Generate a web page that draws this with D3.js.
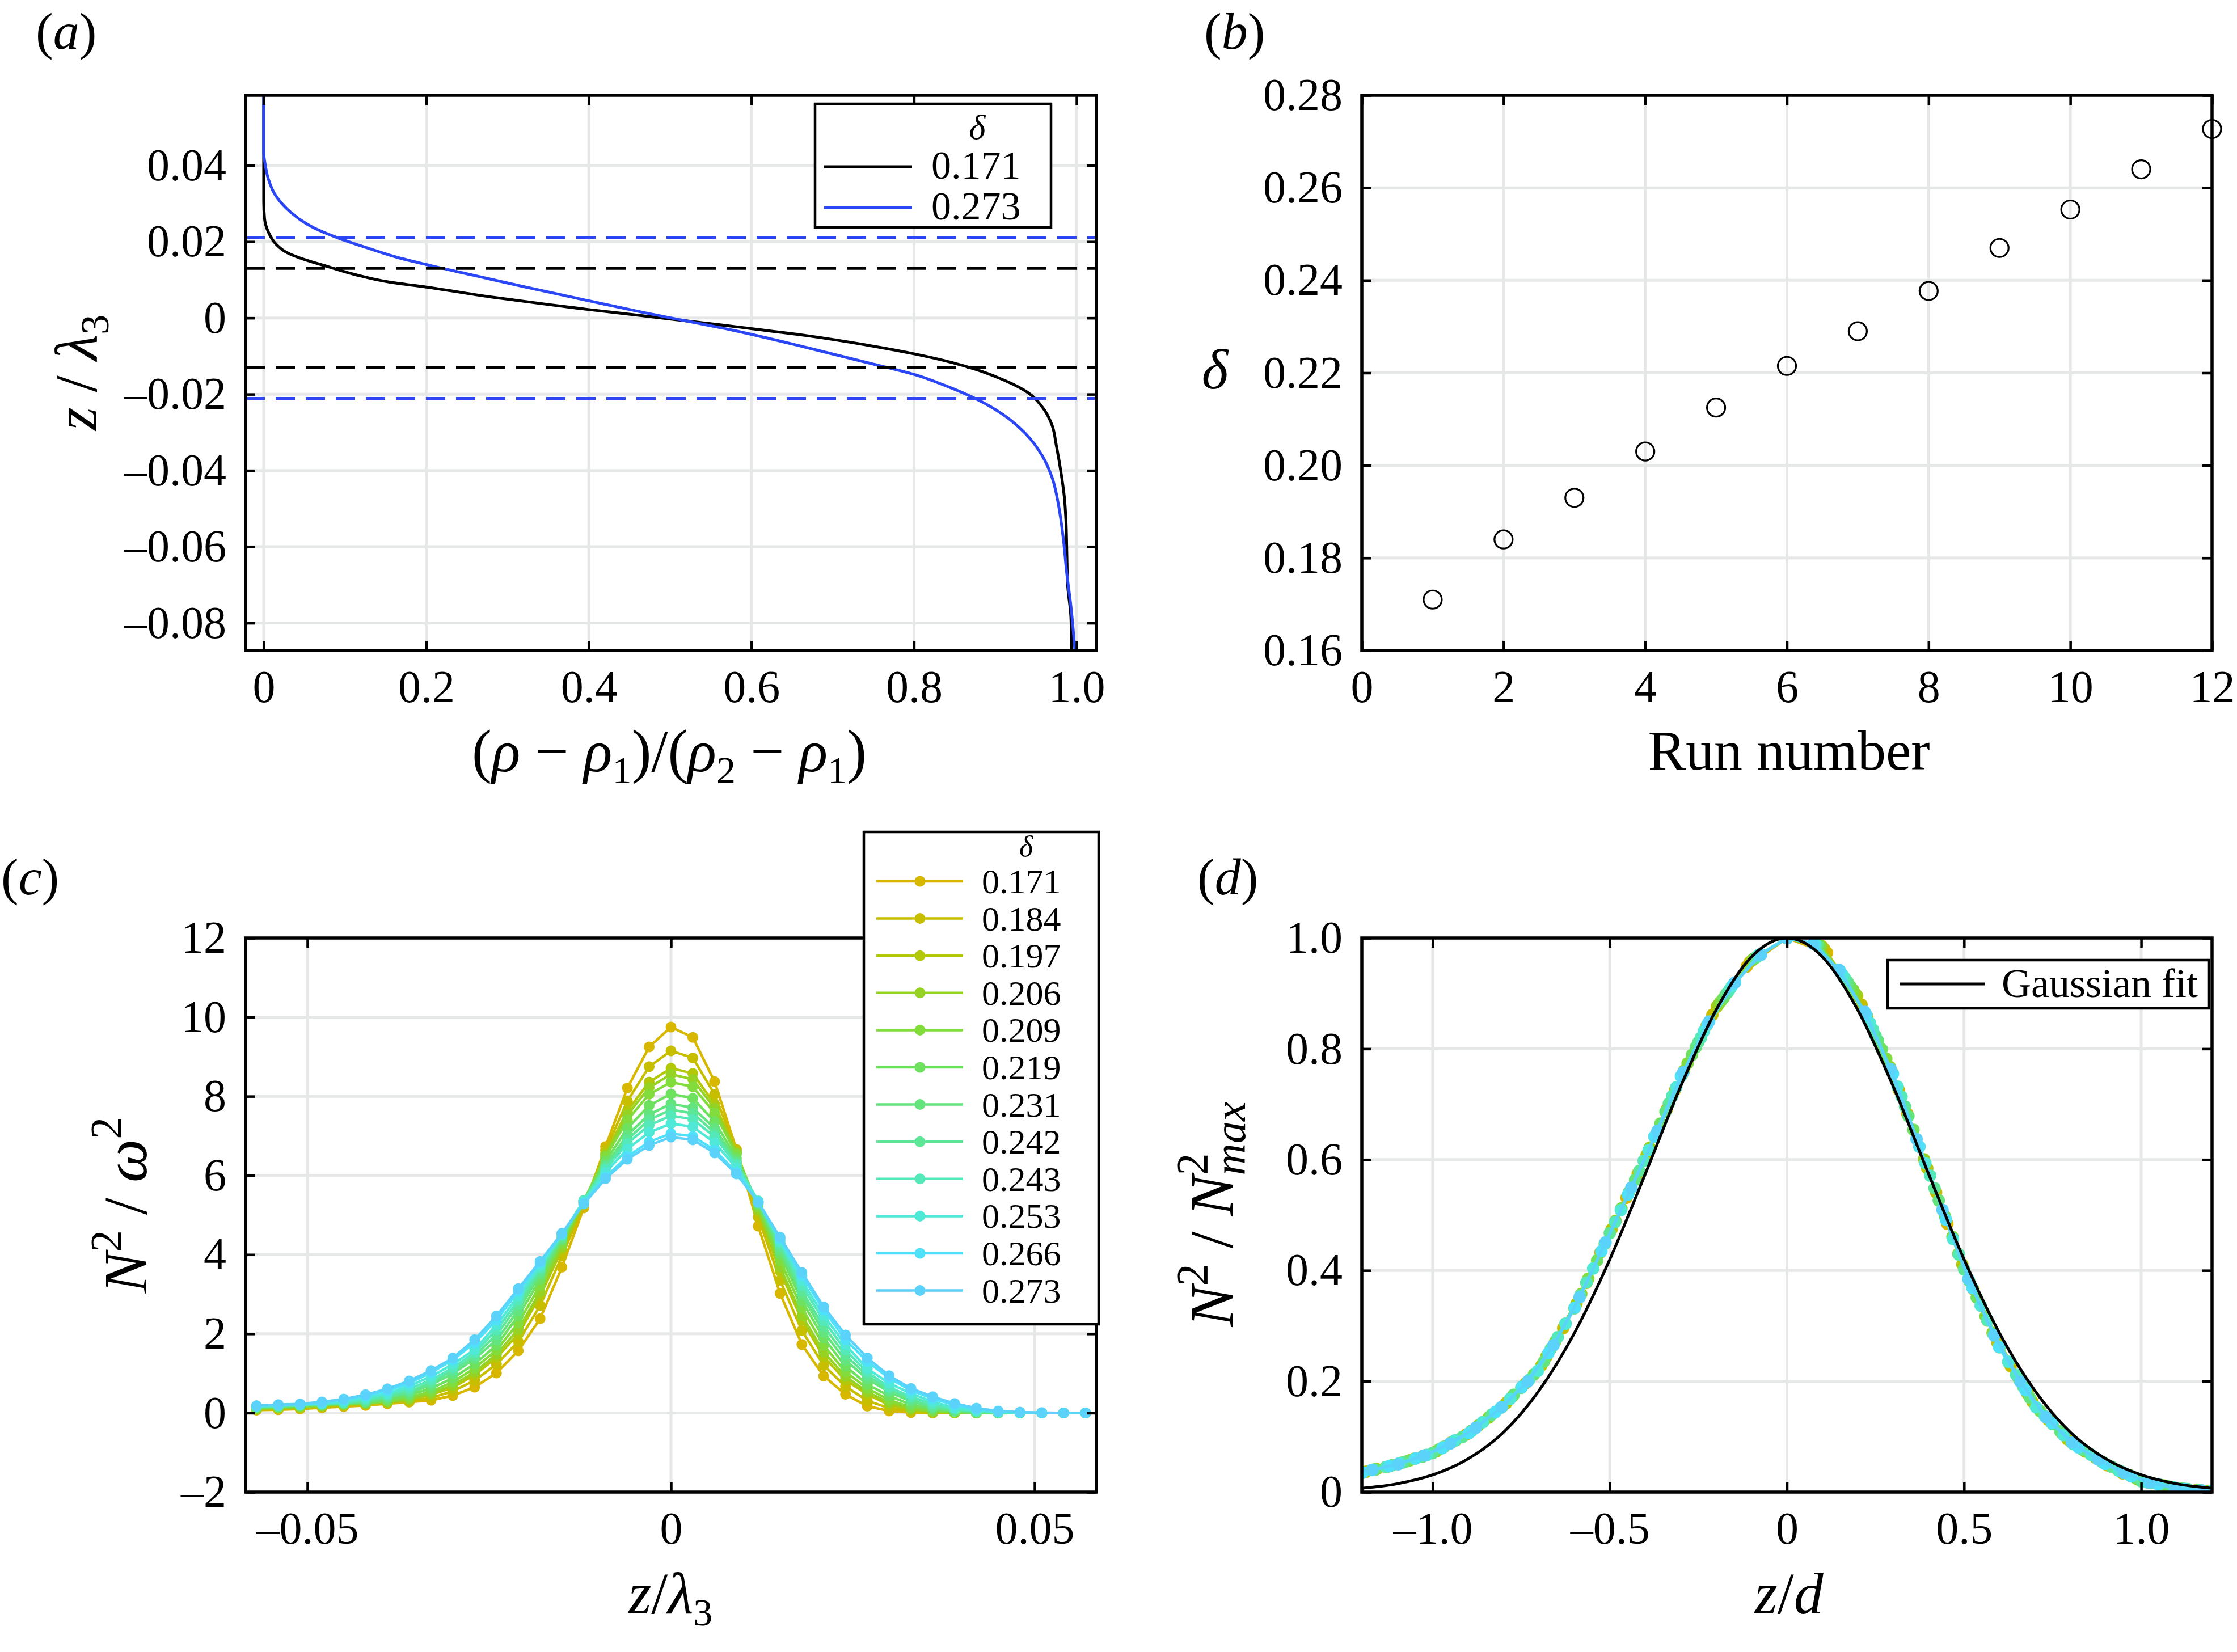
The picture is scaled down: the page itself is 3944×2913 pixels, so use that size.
<!DOCTYPE html>
<html>
<head>
<meta charset="utf-8">
<script src="https://cdn.jsdelivr.net/npm/d3@7"></script>
<style>
body { margin: 0; background: #fff; }
text { font-family: "Liberation Serif", "Times New Roman", serif; fill: #000; }
</style>
</head>
<body>
<svg id="fig" width="3944" height="2913"></svg>
<script>
// ---- panel (a): density profiles ----
const rho171 = [0, 0, 0.001, 0.0056, 0.015, 0.029, 0.049, 0.080, 0.112, 0.155, 0.2, 0.280, 0.351, 0.4, 0.466, 0.581, 0.667, 0.758, 0.8, 0.847, 0.876, 0.904, 0.939, 0.958, 0.970, 0.975, 0.981, 0.985, 0.987, 0.988, 0.989, 0.993, 0.994];
const z171 = [0.0584, 0.0306, 0.0261, 0.0226, 0.0194, 0.0171, 0.0154, 0.0134, 0.0114, 0.0094, 0.0081, 0.0055, 0.0035, 0.0022, 0.0006, -0.0023, -0.0046, -0.0077, -0.0094, -0.0117, -0.0135, -0.0157, -0.0194, -0.0234, -0.0282, -0.0333, -0.0407, -0.047, -0.0533, -0.0613, -0.0698, -0.0783, -0.0872];
const rho273 = [0, 0, 0.002, 0.0056, 0.015, 0.034, 0.062, 0.090, 0.127, 0.164, 0.2, 0.258, 0.320, 0.4, 0.466, 0.581, 0.667, 0.752, 0.8, 0.838, 0.878, 0.910, 0.938, 0.958, 0.970, 0.978, 0.984, 0.988, 0.993, 0.998];
const z273 = [0.0584, 0.0435, 0.040, 0.0365, 0.032, 0.0276, 0.0236, 0.0211, 0.0184, 0.0159, 0.0140, 0.0112, 0.0082, 0.0045, 0.0015, -0.0034, -0.0077, -0.0122, -0.0148, -0.0177, -0.0214, -0.0254, -0.0305, -0.0362, -0.0419, -0.0493, -0.0584, -0.067, -0.0755, -0.0872];
const dash171 = [0.013, -0.013];
const dash273 = [0.0211, -0.0211];

// ---- panel (b): delta per run ----
const runs = [1, 2, 3, 4, 5, 6, 7, 8, 9, 10, 11, 12];
const deltaRun = [0.171, 0.184, 0.193, 0.203, 0.2125, 0.2215, 0.229, 0.2377, 0.247, 0.2553, 0.264, 0.2727];

// ---- panel (c): N^2/omega^2 profiles ----
const deltaLabels = ['0.171', '0.184', '0.197', '0.206', '0.209', '0.219', '0.231', '0.242', '0.243', '0.253', '0.266', '0.273'];
const zC = [-0.057, -0.054, -0.051, -0.048, -0.045, -0.042, -0.039, -0.036, -0.033, -0.030, -0.027, -0.024, -0.021, -0.018, -0.015, -0.012, -0.009, -0.006, -0.003, 0, 0.003, 0.006, 0.009, 0.012, 0.015, 0.018, 0.021, 0.024, 0.027, 0.030, 0.033, 0.036, 0.039, 0.042, 0.045, 0.048, 0.051, 0.054, 0.057];
const n171 = [0.07,0.08,0.10,0.13,0.16,0.19,0.23,0.27,0.32,0.44,0.65,1.01,1.57,2.38,3.68,5.18,6.73,8.21,9.25,9.75,9.49,8.37,6.66,4.72,3.02,1.73,0.93,0.47,0.17,0.05,0.01,0,0,0,0,0,0,0,0];
const n184 = [0.08,0.10,0.12,0.15,0.18,0.22,0.25,0.29,0.38,0.55,0.82,1.23,1.80,2.71,3.96,5.26,6.64,7.88,8.75,9.15,8.97,8.05,6.64,4.95,3.35,2.08,1.20,0.67,0.31,0.12,0.04,0.01,0,0,0,0,0,0,0];
const n197 = [0.10,0.12,0.14,0.17,0.20,0.23,0.27,0.32,0.46,0.64,0.96,1.40,1.99,2.96,4.13,5.30,6.55,7.63,8.36,8.71,8.58,7.80,6.60,5.09,3.58,2.35,1.42,0.83,0.47,0.20,0.07,0.02,0,0,0,0,0,0,0];
const n206 = [0.10,0.13,0.15,0.18,0.21,0.24,0.28,0.35,0.49,0.70,1.03,1.48,2.11,3.06,4.19,5.32,6.51,7.53,8.22,8.56,8.43,7.70,6.57,5.14,3.68,2.46,1.54,0.92,0.53,0.26,0.10,0.03,0.01,0,0,0,0,0,0];
const n209 = [0.12,0.14,0.16,0.19,0.22,0.25,0.29,0.39,0.54,0.78,1.13,1.59,2.27,3.22,4.28,5.36,6.47,7.40,8.05,8.36,8.24,7.58,6.54,5.21,3.85,2.65,1.71,1.04,0.62,0.33,0.14,0.05,0.02,0,0,0,0,0,0];
const n219 = [0.13,0.15,0.18,0.20,0.23,0.26,0.33,0.45,0.62,0.88,1.24,1.71,2.45,3.37,4.36,5.36,6.36,7.19,7.77,8.06,7.95,7.36,6.44,5.27,4.01,2.83,1.89,1.18,0.72,0.43,0.21,0.09,0.03,0,0,0,0,0,0];
const n231 = [0.14,0.16,0.19,0.21,0.24,0.27,0.38,0.50,0.71,0.99,1.37,1.84,2.59,3.50,4.40,5.36,6.27,7.02,7.54,7.81,7.71,7.19,6.36,5.30,4.11,2.98,2.04,1.33,0.86,0.53,0.29,0.13,0.05,0.02,0,0,0,0,0];
const n242 = [0.15,0.17,0.20,0.22,0.25,0.31,0.41,0.54,0.76,1.07,1.44,1.98,2.72,3.58,4.44,5.37,6.22,6.91,7.41,7.66,7.57,7.08,6.31,5.33,4.20,3.08,2.18,1.46,0.94,0.59,0.35,0.15,0.07,0.03,0.01,0,0,0,0];
const n243 = [0.16,0.18,0.20,0.23,0.26,0.34,0.45,0.61,0.83,1.14,1.52,2.10,2.84,3.66,4.49,5.37,6.16,6.81,7.27,7.51,7.42,6.98,6.27,5.36,4.29,3.22,2.33,1.59,1.03,0.65,0.41,0.22,0.10,0.04,0.01,0,0,0,0];
const n253 = [0.17,0.19,0.21,0.24,0.29,0.38,0.49,0.68,0.92,1.23,1.60,2.22,2.95,3.72,4.51,5.34,6.08,6.67,7.09,7.31,7.23,6.83,6.19,5.35,4.34,3.34,2.46,1.72,1.12,0.75,0.49,0.28,0.13,0.06,0.02,0.01,0,0,0];
const n266 = [0.18,0.20,0.22,0.25,0.33,0.43,0.56,0.75,1.02,1.34,1.77,2.35,3.07,3.79,4.53,5.30,5.96,6.48,6.85,7.06,6.99,6.64,6.08,5.33,4.40,3.47,2.60,1.85,1.30,0.88,0.57,0.36,0.20,0.10,0.04,0.01,0,0,0];
const n273 = [0.18,0.21,0.23,0.28,0.35,0.46,0.61,0.81,1.07,1.39,1.85,2.45,3.14,3.83,4.54,5.28,5.92,6.41,6.76,6.97,6.90,6.57,6.04,5.32,4.44,3.55,2.68,1.97,1.39,0.94,0.62,0.41,0.24,0.12,0.05,0.02,0.01,0,0];
const seriesC = [n171, n184, n197, n206, n209, n219, n231, n242, n243, n253, n266, n273];
const colorsC = ['#d7b700', '#c8be00', '#b4c80a', '#96d223', '#82dc3c', '#6ee15f', '#64e47d', '#5ce696', '#55e8b9', '#50e8d7', '#50e1fa', '#5ad2fa'];
// interface thickness d per run (used for panel d)
const dWidth = [0.0265, 0.0285, 0.0303, 0.0310, 0.0321, 0.0336, 0.0350, 0.0360, 0.0371, 0.0384, 0.0401, 0.0410];

// ---- panel (d): Gaussian fit ----
const gaussS = [-1.2, -1.1, -1.0, -0.9, -0.8, -0.7, -0.6, -0.5, -0.4, -0.3, -0.2, -0.1, 0, 0.1, 0.2, 0.3, 0.4, 0.5, 0.6, 0.7, 0.8, 0.9, 1.0, 1.1, 1.2];
const gaussV = [0.007, 0.015, 0.031, 0.060, 0.108, 0.183, 0.287, 0.420, 0.574, 0.732, 0.870, 0.966, 1.0, 0.966, 0.870, 0.732, 0.574, 0.420, 0.287, 0.183, 0.108, 0.060, 0.031, 0.015, 0.007];

// ---- ticks ----
const aXTicks = [0, 0.2, 0.4, 0.6, 0.8, 1.0];
const aXLabels = ['0', '0.2', '0.4', '0.6', '0.8', '1.0'];
const aYTicks = [-0.08, -0.06, -0.04, -0.02, 0, 0.02, 0.04];
const aYLabels = ['–0.08', '–0.06', '–0.04', '–0.02', '0', '0.02', '0.04'];
const bXTicks = [0, 2, 4, 6, 8, 10, 12];
const bXLabels = ['0', '2', '4', '6', '8', '10', '12'];
const bYTicks = [0.16, 0.18, 0.20, 0.22, 0.24, 0.26, 0.28];
const bYLabels = ['0.16', '0.18', '0.20', '0.22', '0.24', '0.26', '0.28'];
const cXTicks = [-0.05, 0, 0.05];
const cXLabels = ['–0.05', '0', '0.05'];
const cYTicks = [-2, 0, 2, 4, 6, 8, 10, 12];
const cYLabels = ['–2', '0', '2', '4', '6', '8', '10', '12'];
const dXTicks = [-1.0, -0.5, 0, 0.5, 1.0];
const dXLabels = ['–1.0', '–0.5', '0', '0.5', '1.0'];
const dYTicks = [0, 0.2, 0.4, 0.6, 0.8, 1.0];
const dYLabels = ['0', '0.2', '0.4', '0.6', '0.8', '1.0'];

const svg = d3.select('#fig');
const FONT = '"Liberation Serif", "Times New Roman", serif';
const GRID = '#e6e8e8';
const TICK = 17;
const BLUE = '#2a46f5';

svg.append('rect').attr('width', 3944).attr('height', 2913).attr('fill', '#fff');

function makePanel(box, xDom, yDom, xt, xl, yt, yl, id) {
    let x = d3.scaleLinear().domain(xDom).range([box.l, box.r]);
    let y = d3.scaleLinear().domain(yDom).range([box.b, box.t]);
    let g = svg.append('g');

    // сетка
    g.append('g').selectAll('line').data(xt).join('line')
        .attr('x1', d => x(d)).attr('x2', d => x(d))
        .attr('y1', box.t).attr('y2', box.b)
        .attr('stroke', GRID).attr('stroke-width', 5);
    g.append('g').selectAll('line').data(yt).join('line')
        .attr('y1', d => y(d)).attr('y2', d => y(d))
        .attr('x1', box.l).attr('x2', box.r)
        .attr('stroke', GRID).attr('stroke-width', 5);

    svg.append('clipPath').attr('id', 'clip' + id).append('rect')
        .attr('x', box.l).attr('y', box.t)
        .attr('width', box.r - box.l).attr('height', box.b - box.t);
    let plot = g.append('g').attr('clip-path', `url(#clip${id})`);

    let axes = function () {
        let styleAxis = a => a.attr('font-family', FONT).attr('font-size', 80)
            .call(s => s.select('.domain').remove())
            .call(s => s.selectAll('line').attr('stroke', '#000').attr('stroke-width', 4.5));
        g.append('g').attr('transform', `translate(0,${box.b})`)
            .call(d3.axisBottom(x).tickValues(xt).tickFormat((d, i) => xl[i]).tickSize(-TICK).tickPadding(34))
            .call(styleAxis);
        g.append('g').attr('transform', `translate(0,${box.t})`)
            .call(d3.axisTop(x).tickValues(xt).tickFormat(() => '').tickSize(-TICK))
            .call(styleAxis);
        g.append('g').attr('transform', `translate(${box.l},0)`)
            .call(d3.axisLeft(y).tickValues(yt).tickFormat((d, i) => yl[i]).tickSize(-TICK).tickPadding(34))
            .call(styleAxis);
        g.append('g').attr('transform', `translate(${box.r},0)`)
            .call(d3.axisRight(y).tickValues(yt).tickFormat(() => '').tickSize(-TICK))
            .call(styleAxis);
        g.append('rect')
            .attr('x', box.l).attr('y', box.t)
            .attr('width', box.r - box.l).attr('height', box.b - box.t)
            .attr('fill', 'none').attr('stroke', '#000').attr('stroke-width', 5.5);
    };
    return {x, y, g, plot, axes, box};
}

// текст с индексами: parts = [{t, i (italic), s (сдвиг вниз, px), fs, dx}]
function rich(sel, parts, size) {
    let cur = 0;
    parts.forEach(p => {
        let s = p.s || 0;
        let ts = sel.append('tspan').text(p.t)
            .attr('font-size', p.fs || size)
            .attr('font-style', p.i ? 'italic' : 'normal');
        if (s !== cur) { ts.attr('dy', s - cur); cur = s; }
        if (p.dx) ts.attr('dx', p.dx);
    });
    return sel;
}

function panelLabel(x, y, letter) {
    rich(svg.append('text').attr('x', x).attr('y', y),
        [{t: '('}, {t: letter, i: true}, {t: ')'}], 92);
}

// ================= (a) =================
let A = makePanel({l: 433, r: 1933, t: 168, b: 1147}, [-0.0223, 1.0244], [-0.0872, 0.0584],
    aXTicks, aXLabels, aYTicks, aYLabels, 'A');

let lineA = d3.line().x(d => A.x(d[0])).y(d => A.y(d[1])).curve(d3.curveMonotoneY);
A.plot.append('path').datum(rho171.map((r, i) => [r, z171[i]]))
    .attr('d', lineA).attr('fill', 'none').attr('stroke', '#000').attr('stroke-width', 5);
A.plot.append('path').datum(rho273.map((r, i) => [r, z273[i]]))
    .attr('d', lineA).attr('fill', 'none').attr('stroke', BLUE).attr('stroke-width', 5);

A.plot.selectAll('.d171').data(dash171).join('line')
    .attr('x1', A.box.l).attr('x2', A.box.r)
    .attr('y1', d => A.y(d)).attr('y2', d => A.y(d))
    .attr('stroke', '#000').attr('stroke-width', 5).attr('stroke-dasharray', '34,19');
A.plot.selectAll('.d273').data(dash273).join('line')
    .attr('x1', A.box.l).attr('x2', A.box.r)
    .attr('y1', d => A.y(d)).attr('y2', d => A.y(d))
    .attr('stroke', BLUE).attr('stroke-width', 5).attr('stroke-dasharray', '34,19');
A.axes();

// легенда (a)
let legA = svg.append('g');
legA.append('rect').attr('x', 1437).attr('y', 183).attr('width', 416).attr('height', 218)
    .attr('fill', '#fff').attr('stroke', '#000').attr('stroke-width', 4.5);
legA.append('text').attr('x', 1723).attr('y', 245).attr('text-anchor', 'middle')
    .attr('font-size', 62).attr('font-style', 'italic').text('δ');
[['0.171', '#000', 294], ['0.273', BLUE, 366]].forEach(([lab, col, yy]) => {
    legA.append('line').attr('x1', 1453).attr('x2', 1608).attr('y1', yy).attr('y2', yy)
        .attr('stroke', col).attr('stroke-width', 5);
    legA.append('text').attr('x', 1642).attr('y', yy + 21).attr('font-size', 70).text(lab);
});

rich(svg.append('text').attr('x', 1180).attr('y', 1360).attr('text-anchor', 'middle'), [
    {t: '('}, {t: 'ρ', i: true}, {t: ' − '}, {t: 'ρ', i: true}, {t: '1', fs: 68, s: 21},
    {t: ')/('}, {t: 'ρ', i: true}, {t: '2', fs: 68, s: 21}, {t: ' − '}, {t: 'ρ', i: true},
    {t: '1', fs: 68, s: 21}, {t: ')'}], 105);
rich(svg.append('text').attr('transform', 'translate(170,657) rotate(-90)').attr('text-anchor', 'middle'), [
    {t: 'z', i: true}, {t: ' / '}, {t: 'λ', i: true}, {t: '3', fs: 70, s: 21}], 106);
panelLabel(63, 86, 'a');

// ================= (b) =================
let B = makePanel({l: 2401, r: 3900, t: 168, b: 1147}, [0, 12], [0.16, 0.28],
    bXTicks, bXLabels, bYTicks, bYLabels, 'B');
B.axes();
B.g.selectAll('circle').data(runs).join('circle')
    .attr('cx', d => B.x(d)).attr('cy', (d, i) => B.y(deltaRun[i])).attr('r', 16)
    .attr('fill', 'none').attr('stroke', '#000').attr('stroke-width', 3.2);
svg.append('text').attr('x', 3154).attr('y', 1357).attr('text-anchor', 'middle')
    .attr('font-size', 100).text('Run number');
svg.append('text').attr('x', 2142).attr('y', 685).attr('text-anchor', 'middle')
    .attr('font-size', 100).attr('font-style', 'italic').text('δ');
panelLabel(2123, 86, 'b');

// ================= (c) =================
let C = makePanel({l: 433, r: 1933, t: 1654, b: 2631}, [-0.0585, 0.0585], [-2, 12],
    cXTicks, cXLabels, cYTicks, cYLabels, 'C');
let lineC = d3.line().x((d, i) => C.x(zC[i])).y(d => C.y(d));
seriesC.forEach((vals, k) => {
    let sg = C.plot.append('g');
    sg.append('path').datum(vals).attr('d', lineC)
        .attr('fill', 'none').attr('stroke', colorsC[k]).attr('stroke-width', 4.5);
    sg.selectAll('circle').data(vals).join('circle')
        .attr('cx', (d, i) => C.x(zC[i])).attr('cy', d => C.y(d)).attr('r', 9.5)
        .attr('fill', colorsC[k]);
});
C.axes();

let legC = svg.append('g');
legC.append('rect').attr('x', 1523).attr('y', 1467).attr('width', 414).attr('height', 868)
    .attr('fill', '#fff').attr('stroke', '#000').attr('stroke-width', 4.5);
legC.append('text').attr('x', 1809).attr('y', 1510).attr('text-anchor', 'middle')
    .attr('font-size', 52).attr('font-style', 'italic').text('δ');
deltaLabels.forEach((lab, k) => {
    let yy = 1554 + k * 65.6;
    legC.append('line').attr('x1', 1545).attr('x2', 1698).attr('y1', yy).attr('y2', yy)
        .attr('stroke', colorsC[k]).attr('stroke-width', 4.5);
    legC.append('circle').attr('cx', 1622).attr('cy', yy).attr('r', 9.5).attr('fill', colorsC[k]);
    legC.append('text').attr('x', 1731).attr('y', yy + 21).attr('font-size', 62).text(lab);
});

rich(svg.append('text').attr('x', 1182).attr('y', 2845).attr('text-anchor', 'middle'), [
    {t: 'z', i: true}, {t: '/'}, {t: 'λ', i: true}, {t: '3', fs: 68, s: 21}], 104);
rich(svg.append('text').attr('transform', 'translate(258,2125) rotate(-90)').attr('text-anchor', 'middle'), [
    {t: 'N', i: true}, {t: '2', fs: 78, s: -45}, {t: ' / ', s: 0}, {t: 'ω', i: true},
    {t: '2', fs: 78, s: -45}], 108);
panelLabel(2, 1577, 'c');

// ================= (d) =================
let D = makePanel({l: 2401, r: 3900, t: 1654, b: 2631}, [-1.2, 1.2], [0, 1],
    dXTicks, dXLabels, dYTicks, dYLabels, 'D');
// нормировка: z/d и N^2/N^2_max
let normD = seriesC.map((vals, k) => {
    let mx = d3.max(vals);
    return vals.map((v, i) => ({s: zC[i] / dWidth[k], v: v / mx}));
});
let lineD = d3.line().x(d => D.x(d.s)).y(d => D.y(d.v));
normD.forEach((pts, k) => {
    let sg = D.plot.append('g');
    sg.append('path').datum(pts).attr('d', lineD)
        .attr('fill', 'none').attr('stroke', colorsC[k]).attr('stroke-width', 5);
    sg.selectAll('circle').data(pts).join('circle')
        .attr('cx', d => D.x(d.s)).attr('cy', d => D.y(d.v)).attr('r', 11)
        .attr('fill', colorsC[k]);
});
D.plot.append('path').datum(gaussS.map((s, i) => [s, gaussV[i]]))
    .attr('d', d3.line().x(d => D.x(d[0])).y(d => D.y(d[1])).curve(d3.curveMonotoneX))
    .attr('fill', 'none').attr('stroke', '#000').attr('stroke-width', 5);
D.axes();

let legD = svg.append('g');
legD.append('rect').attr('x', 3328).attr('y', 1693).attr('width', 566).attr('height', 85)
    .attr('fill', '#fff').attr('stroke', '#000').attr('stroke-width', 4.5);
legD.append('line').attr('x1', 3349).attr('x2', 3500).attr('y1', 1735).attr('y2', 1735)
    .attr('stroke', '#000').attr('stroke-width', 5);
legD.append('text').attr('x', 3529).attr('y', 1758).attr('font-size', 72).text('Gaussian fit');

rich(svg.append('text').attr('x', 3154).attr('y', 2845).attr('text-anchor', 'middle'), [
    {t: 'z', i: true}, {t: '/'}, {t: 'd', i: true}], 104);
rich(svg.append('text').attr('transform', 'translate(2173,2141) rotate(-90)').attr('text-anchor', 'middle'), [
    {t: 'N', i: true}, {t: '2', fs: 78, s: -45}, {t: ' / ', s: 0}, {t: 'N', i: true},
    {t: '2', fs: 78, s: -45}, {t: 'max', i: true, fs: 78, s: 22, dx: -39}], 108);
panelLabel(2111, 1577, 'd');
</script>
</body>
</html>
